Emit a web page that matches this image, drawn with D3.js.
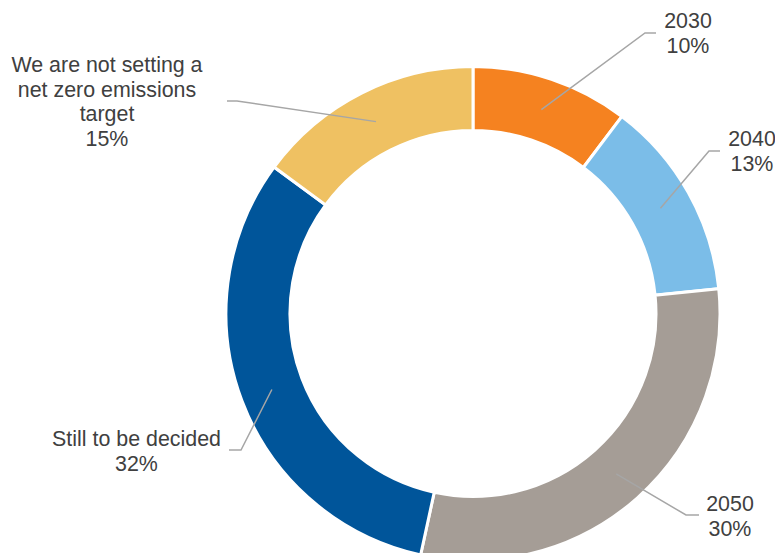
<!DOCTYPE html>
<html>
<head>
<meta charset="utf-8">
<script src="https://cdn.jsdelivr.net/npm/d3@7/dist/d3.min.js"></script>
<style>
  body { margin: 0; background: #fff; }
  svg { display: block; }
  text { font-family: "Liberation Sans", Arial, sans-serif; font-size: 21.4px; fill: #404040; }
</style>
</head>
<body>
<div id="grafico"></div>
<script>
// datos del grafico
var categorias = ["2030", "2040", "2050", "Still to be decided", "We are not setting a net zero emissions target"];
var valores = [10.3, 13.1, 30.0, 31.7, 14.9];
var etiquetas = [["2030", "10%"], ["2040", "13%"], ["2050", "30%"], ["Still to be decided", "32%"],
                 ["We are not setting a", "net zero emissions", "target", "15%"]];
var colores = ["#F58220", "#7BBDE8", "#A59D96", "#00559A", "#EFC162"];

// posicion de las etiquetas (codo de la linea, fin de la linea, texto)
var layoutEtiquetas = [
  { codo: [645, 33], fin: [656, 33], x: 688, y: 28 },
  { codo: [709, 151], fin: [720, 151], x: 752, y: 146 },
  { codo: [686, 515], fin: [699, 515], x: 730, y: 511 },
  { codo: [241, 450], fin: [229, 450], x: 136.5, y: 446 },
  { codo: [237, 101], fin: [227, 101], x: 107, y: 72 }
];

var width = 775, height = 553;
var cx = 473, cy = 313.5;
var rExt = 247, rInt = 183;

var svg = d3.select("#grafico").append("svg")
  .attr("width", width).attr("height", height);

var g = svg.append("g").attr("transform", "translate(" + cx + "," + cy + ")");

var pie = d3.pie().sort(null).value(function(d){ return d; });
var arc = d3.arc().outerRadius(rExt).innerRadius(rInt);
var arcMedio = d3.arc().outerRadius(215).innerRadius(215);

var arcos = pie(valores);

g.selectAll("path.rebanada")
  .data(arcos)
  .enter()
  .append("path")
  .attr("class", "rebanada")
  .attr("d", arc)
  .style("fill", function(d, i){ return colores[i]; })
  .style("stroke", "#fff")
  .style("stroke-width", 3);

// lineas guia
svg.selectAll("polyline.guia")
  .data(arcos)
  .enter()
  .append("polyline")
  .attr("class", "guia")
  .attr("points", function(d, i){
    var c = arcMedio.centroid(d);
    var l = layoutEtiquetas[i];
    return [[c[0] + cx, c[1] + cy], l.codo, l.fin].map(function(p){ return p.join(","); }).join(" ");
  })
  .style("fill", "none")
  .style("stroke", "#A6A6A6")
  .style("stroke-width", 1.5);

// etiquetas
var t = svg.selectAll("text.etiqueta")
  .data(etiquetas)
  .enter()
  .append("text")
  .attr("class", "etiqueta")
  .attr("text-anchor", "middle")
  .attr("x", function(d, i){ return layoutEtiquetas[i].x; })
  .attr("y", function(d, i){ return layoutEtiquetas[i].y; });

t.selectAll("tspan")
  .data(function(d, i){ return d.map(function(s){ return { s: s, i: i }; }); })
  .enter()
  .append("tspan")
  .attr("x", function(d){ return layoutEtiquetas[d.i].x; })
  .attr("dy", function(d, j){ return j === 0 ? 0 : 24.5; })
  .text(function(d){ return d.s; });
</script>
</body>
</html>
